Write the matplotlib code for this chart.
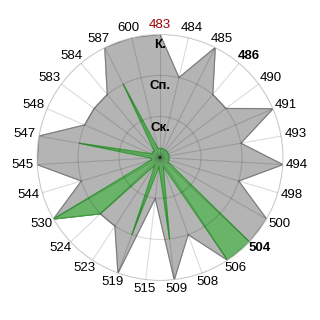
import numpy as np
from matplotlib import pyplot as plt

labels = ['483', '484', '485', '486', '490', '491', '493', '494', '498', '500',
          '504', '506', '508', '509', '515', '519', '523', '524', '530', '544',
          '545', '547', '548', '583', '584', '587', '600']
gray_values = [3, 2, 3, 2, 2, 3, 2, 3, 2, 3,
               3, 3, 2, 3, 1, 3, 2, 2, 3, 2,
               3, 3, 2, 2, 2, 3, 3]
green_values = [0.22, 0.22, 0.22, 0.22, 0.22, 0.22, 0.22, 0.22, 0.22, 0.22,
                3, 3, 0.22, 2, 0.22, 2, 0.22, 2, 3, 0.22,
                0.22, 2, 0.22, 0.22, 0.22, 2, 0.22]
level_names = ['Ск.', 'Сп.', 'К.']
level_pos = [0.73, 1.75, 2.74]
bold_labels = ['486', '504']
red_labels = ['483']

n = len(labels)
angles = np.linspace(0, 2 * np.pi, n, endpoint=False)
a_closed = np.append(angles, angles[0])

fig = plt.figure(figsize=(3.2, 3.2), dpi=100)
ax = fig.add_axes([0.1156, 0.1234, 0.769, 0.769], projection='polar')
ax.set_theta_zero_location('N')
ax.set_theta_direction(-1)
ax.set_ylim(0, 3)

g = np.append(gray_values, gray_values[0])
ax.fill(a_closed, g, color='#b4b4b4', zorder=1)
ax.plot(a_closed, g, color='#7c7c7c', lw=0.8, zorder=1.2)

gr = np.append(green_values, green_values[0])
ax.fill(a_closed, gr, color='#6ab46a', zorder=1.5)
ax.plot(a_closed, gr, color='#3c9a3c', lw=0.8, zorder=1.6)

ax.set_xticks(angles)
ax.set_xticklabels([])
ax.set_yticks([1, 2, 3])
ax.set_yticklabels([])
ax.set_axisbelow(False)
ax.grid(True, color='black', alpha=0.14, lw=0.8)
ax.spines['polar'].set_color('#dcdcdc')
ax.spines['polar'].set_linewidth(0.8)

# category labels, pushed outward from the rim depending on angle
for ang, lab in zip(angles, labels):
    color = '#a00000' if lab in red_labels else 'black'
    weight = 'bold' if lab in bold_labels else 'normal'
    dx = np.sin(ang) * 8
    dy = np.cos(ang) * 4.5
    ax.annotate(lab, xy=(ang, 3.08), xytext=(dx, dy), textcoords='offset points',
                ha='center', va='center', fontsize=9.5, family='Liberation Sans',
                color=color, fontweight=weight, annotation_clip=False)

for name, r in zip(level_names, level_pos):
    ax.text(0, r, name, ha='center', va='center', fontsize=9.5,
            family='Liberation Sans', fontweight='bold', zorder=5)

plt.savefig('out.png', dpi=100)
